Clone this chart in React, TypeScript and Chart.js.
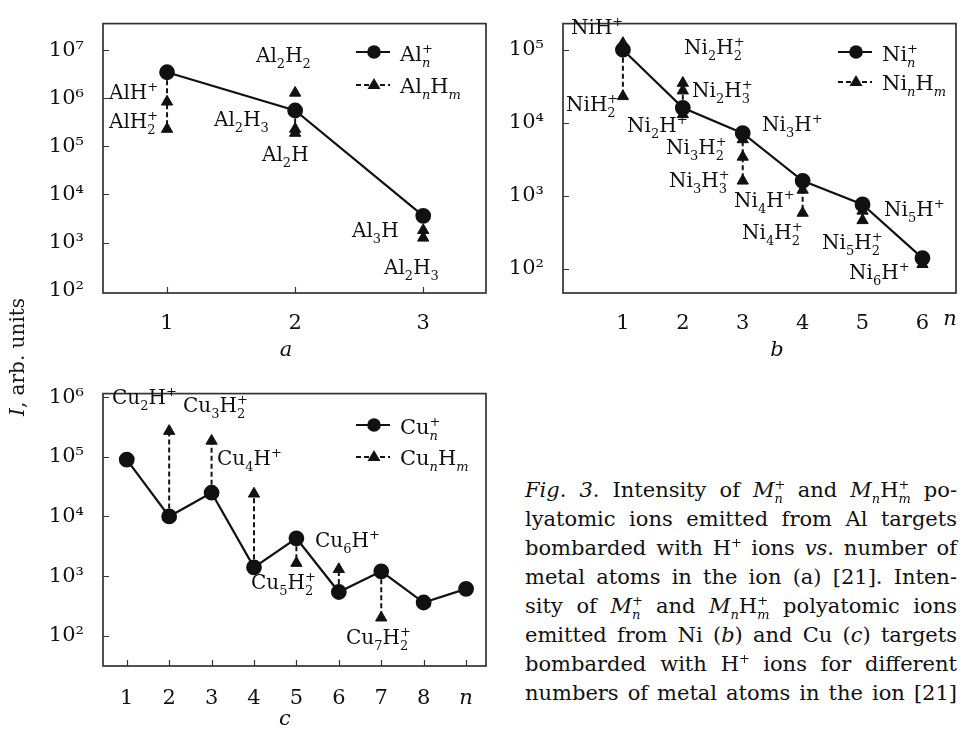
import React, { useEffect, useRef } from "react";
import { Chart, registerables } from "chart.js";

Chart.register(...registerables);

const FONT = "'DejaVu Serif', 'Liberation Serif', serif";
const INK = "#111111";

// ---------- data: panel a (Al) ----------
const alN = [1, 2, 3];
const alIons = [3.5e6, 5.6e5, 3.6e3];
const alHydN = [1, 1, 2, 2, 2, 3, 3];
const alHyd = [8.5e5, 2.3e5, 1.3e6, 2.3e5, 1.9e5, 1.8e3, 1.25e3];
const alLinks = [1, 4]; // hydride indices joined by a dashed line to the ion of the same n
const alXTicks = [1, 2, 3];
const alXTickLabels = ["1", "2", "3"];
const alYExps = [2, 3, 4, 5, 6, 7];

// ---------- data: panel b (Ni) ----------
const niN = [1, 2, 3, 4, 5, 6];
const niIons = [1.0e5, 1.6e4, 7.2e3, 1.6e3, 760, 140];
const niHydN = [1, 1, 2, 2, 2, 3, 3, 3, 4, 4, 5, 5, 6];
const niHyd = [1.23e5, 2.3e4, 3.5e4, 2.75e4, 1.3e4, 5.9e3, 3.4e3, 1.6e3, 1.2e3, 580, 620, 460, 115];
const niLinks = [1, 3, 7, 9];
const niXTicks = [1, 2, 3, 4, 5, 6];
const niXTickLabels = ["1", "2", "3", "4", "5", "6"];
const niYExps = [2, 3, 4, 5];

// ---------- data: panel c (Cu) ----------
const cuN = [1, 2, 3, 4, 5, 6, 7, 8, 9];
const cuIons = [9e4, 1e4, 2.5e4, 1.4e3, 4.3e3, 540, 1.2e3, 360, 610];
const cuHydN = [2, 3, 4, 5, 6, 7];
const cuHyd = [2.7e5, 1.85e5, 2.4e4, 1.65e3, 1.3e3, 200];
const cuLinks = [0, 1, 2, 3, 4, 5];
const cuXTicks = [1, 2, 3, 4, 5, 6, 7, 8, 9];
const cuXTickLabels = ["1", "2", "3", "4", "5", "6", "7", "8", "n"];
const cuYExps = [2, 3, 4, 5, 6];

// ---------- annotation texts ----------
const alNotes: [string, number, number][] = [
  ["AlH^+", 109, 90],
  ["AlH_2^+", 109, 119],
  ["Al_2H_2", 256, 53],
  ["Al_2H_3", 214, 117],
  ["Al_2H", 262, 152],
  ["Al_3H", 352, 228],
  ["Al_2H_3", 384, 265],
];
const niNotes: [string, number, number][] = [
  ["NiH^+", 571, 25],
  ["NiH_2^+", 566, 102],
  ["Ni_2H_2^+", 684, 45],
  ["Ni_2H_3^+", 692, 88],
  ["Ni_2H^+", 627, 123],
  ["Ni_3H^+", 762, 122],
  ["Ni_3H_2^+", 666, 145],
  ["Ni_3H_3^+", 669, 178],
  ["Ni_4H^+", 734, 198],
  ["Ni_4H_2^+", 742, 230],
  ["Ni_5H^+", 884, 207],
  ["Ni_5H_2^+", 822, 240],
  ["Ni_6H^+", 849, 270],
];
const cuNotes: [string, number, number][] = [
  ["Cu_2H^+", 112, 395],
  ["Cu_3H_2^+", 183, 403],
  ["Cu_4H^+", 217, 456],
  ["Cu_6H^+", 315, 538],
  ["Cu_5H_2^+", 251, 580],
  ["Cu_7H_2^+", 346, 635],
];

const SUP: Record<string, string> = {
  "0": "\u2070", "1": "\u00b9", "2": "\u00b2", "3": "\u00b3", "4": "\u2074",
  "5": "\u2075", "6": "\u2076", "7": "\u2077", "8": "\u2078", "9": "\u2079",
};

type Spec = {
  n: number[]; ions: number[]; hydN: number[]; hyd: number[]; links: number[];
  xTicks: number[]; xTickLabels: string[]; yExps: number[];
  xMin: number; xMax: number; yMin: number; yMax: number;
  yAxisWidth: number; xAxisHeight: number; padTop: number; padRight: number;
  xLabelPad: number; innerXTicks: boolean;
};

const framePlugin = {
  id: "frame",
  afterDraw(chart: any) {
    const { ctx, chartArea, scales } = chart;
    const { left, top, right, bottom } = chartArea;
    const opts = chart.options.plugins.frame || {};
    ctx.save();
    ctx.strokeStyle = "#333";
    ctx.lineWidth = 1.7;
    ctx.strokeRect(left, top, right - left, bottom - top);
    ctx.lineWidth = 1.2;
    ctx.beginPath();
    scales.y.ticks.forEach((t: any) => {
      const y = Math.round(scales.y.getPixelForValue(t.value)) + 0.5;
      if (y > top + 2 && y < bottom - 2) {
        ctx.moveTo(left, y);
        ctx.lineTo(left + 6, y);
      }
    });
    if (opts.innerXTicks) {
      scales.x.ticks.forEach((t: any) => {
        const x = Math.round(scales.x.getPixelForValue(t.value)) + 0.5;
        ctx.moveTo(x, bottom);
        ctx.lineTo(x, bottom - 6);
      });
    }
    ctx.stroke();
    ctx.restore();
  },
};

function buildConfig(s: Spec): any {
  const datasets: any[] = [];
  s.links.forEach((hi) => {
    const nx = s.hydN[hi];
    const ii = s.n.indexOf(nx);
    datasets.push({
      data: [{ x: nx, y: s.ions[ii] }, { x: nx, y: s.hyd[hi] }],
      borderColor: INK, borderWidth: 2, borderDash: [5, 3], pointRadius: 0, order: 3,
    });
  });
  datasets.push({
    data: s.hyd.map((v, i) => ({ x: s.hydN[i], y: v })),
    showLine: false, pointStyle: "triangle", pointRadius: 6.5,
    backgroundColor: INK, borderColor: INK, borderWidth: 1, order: 2,
  });
  datasets.push({
    data: s.ions.map((v, i) => ({ x: s.n[i], y: v })),
    borderColor: INK, borderWidth: 2.2, pointStyle: "circle", pointRadius: 6.8,
    backgroundColor: INK, pointBorderColor: INK, order: 1,
  });
  return {
    type: "line",
    data: { datasets },
    options: {
      responsive: false,
      animation: false,
      events: [],
      layout: { padding: { top: s.padTop, right: s.padRight, left: 0, bottom: 0 } },
      plugins: { legend: { display: false }, tooltip: { enabled: false }, frame: { innerXTicks: s.innerXTicks } },
      scales: {
        x: {
          type: "linear", min: s.xMin, max: s.xMax,
          grid: { display: false }, border: { display: false },
          afterBuildTicks: (sc: any) => { sc.ticks = s.xTicks.map((v) => ({ value: v })); },
          afterFit: (sc: any) => { sc.height = s.xAxisHeight; },
          ticks: {
            padding: s.xLabelPad, color: INK, autoSkip: false, maxRotation: 0,
            font: (ctx: any) => {
              const i = s.xTicks.indexOf(ctx.tick ? ctx.tick.value : -1);
              const lab = i >= 0 ? s.xTickLabels[i] : "";
              return { family: FONT, size: 21, style: /[a-z]/.test(lab) ? "italic" : "normal" };
            },
            callback: (v: any) => { const i = s.xTicks.indexOf(v); return i >= 0 ? s.xTickLabels[i] : ""; },
          },
        },
        y: {
          type: "logarithmic", min: s.yMin, max: s.yMax,
          grid: { display: false }, border: { display: false },
          afterBuildTicks: (sc: any) => { sc.ticks = s.yExps.map((e) => ({ value: Math.pow(10, e) })); },
          afterFit: (sc: any) => { sc.width = s.yAxisWidth; },
          ticks: {
            padding: 11, color: INK, font: { family: FONT, size: 21 },
            callback: (v: any) => "10" + String(Math.round(Math.log10(v))).split("").map((d) => SUP[d]).join(""),
          },
        },
      },
    },
    plugins: [framePlugin],
  };
}

const specA: Spec = {
  n: alN, ions: alIons, hydN: alHydN, hyd: alHyd, links: alLinks,
  xTicks: alXTicks, xTickLabels: alXTickLabels, yExps: alYExps,
  xMin: 0.5, xMax: 3.49, yMin: 89, yMax: 3.6e7,
  yAxisWidth: 103, xAxisHeight: 47, padTop: 4, padRight: 7, xLabelPad: 10, innerXTicks: true,
};
const specB: Spec = {
  n: niN, ions: niIons, hydN: niHydN, hyd: niHyd, links: niLinks,
  xTicks: niXTicks, xTickLabels: niXTickLabels, yExps: niYExps,
  xMin: 0, xMax: 6.56, yMin: 46.5, yMax: 2.28e5,
  yAxisWidth: 73, xAxisHeight: 47, padTop: 4, padRight: 7, xLabelPad: 10, innerXTicks: false,
};
const specC: Spec = {
  n: cuN, ions: cuIons, hydN: cuHydN, hyd: cuHyd, links: cuLinks,
  xTicks: cuXTicks, xTickLabels: cuXTickLabels, yExps: cuYExps,
  xMin: 0.44, xMax: 9.47, yMin: 31, yMax: 1.15e6,
  yAxisWidth: 103, xAxisHeight: 63, padTop: 7, padRight: 7, xLabelPad: 12, innerXTicks: true,
};

function PanelChart({ spec, left, top, width, height }: { spec: Spec; left: number; top: number; width: number; height: number }) {
  const ref = useRef<HTMLCanvasElement>(null);
  useEffect(() => {
    const chart = new Chart(ref.current as HTMLCanvasElement, buildConfig(spec));
    return () => chart.destroy();
  }, []);
  return <canvas ref={ref} width={width} height={height} style={{ position: "absolute", left, top, width, height }} />;
}

function charW(c: string, s: number) {
  if (c === "+") return 0.8 * s;
  if (c === "m") return 0.95 * s;
  return 0.64 * s;
}

function Script({ sub, sup, fs }: { sub: string | null; sup: string | null; fs: number }) {
  const s = Math.round(fs * 0.64);
  const it = (c: string) => (/[a-z]/.test(c) ? "italic" : "normal");
  const w = Math.max(sub ? charW(sub, s) : 0, sup ? charW(sup, s) : 0);
  return (
    <span style={{ display: "inline-block", position: "relative", width: w, height: fs, verticalAlign: "baseline" }}>
      {sup && (
        <span style={{ position: "absolute", left: 0, top: fs - 0.42 * fs - 0.8 * s, fontSize: s, lineHeight: 1, fontStyle: it(sup) }}>{sup}</span>
      )}
      {sub && (
        <span style={{ position: "absolute", left: 0, top: fs + 0.26 * fs - 0.8 * s, fontSize: s, lineHeight: 1, fontStyle: it(sub) }}>{sub}</span>
      )}
    </span>
  );
}

function Chem({ t, fs }: { t: string; fs: number }) {
  const parts: React.ReactNode[] = [];
  let buf = "";
  let k = 0;
  const flush = () => { if (buf) { parts.push(<span key={k++}>{buf}</span>); buf = ""; } };
  for (let i = 0; i < t.length; i++) {
    const c = t[i];
    if (c === "_") {
      flush();
      const sub = t[i + 1];
      i++;
      let sup: string | null = null;
      if (t[i + 1] === "^") { sup = t[i + 2]; i += 2; }
      parts.push(<Script key={k++} sub={sub} sup={sup} fs={fs} />);
    } else if (c === "^") {
      flush();
      parts.push(<Script key={k++} sub={null} sup={t[i + 1]} fs={fs} />);
      i++;
    } else if (c === "*") {
      flush();
      const j = t.indexOf("*", i + 1);
      parts.push(<i key={k++}>{t.slice(i + 1, j)}</i>);
      i = j;
    } else buf += c;
  }
  flush();
  return <>{parts}</>;
}

function Note({ t, x, y, fs = 20 }: { t: string; x: number; y: number; fs?: number }) {
  return (
    <div style={{ position: "absolute", left: x, top: y, transform: "translateY(-50%)", fontSize: fs, lineHeight: 1, whiteSpace: "nowrap" }}>
      <Chem t={t} fs={fs} />
    </div>
  );
}

function Legend({ x, y1, y2, tx, ion, hyd }: { x: number; y1: number; y2: number; tx: number; ion: string; hyd: string }) {
  return (
    <>
      <svg style={{ position: "absolute", left: x, top: y1 - 8 }} width={36} height={16}>
        <line x1={0} y1={8} x2={34} y2={8} stroke={INK} strokeWidth={2.2} />
        <circle cx={18} cy={8} r={6.8} fill={INK} />
      </svg>
      <svg style={{ position: "absolute", left: x, top: y2 - 8 }} width={36} height={16}>
        <line x1={0} y1={9} x2={34} y2={9} stroke={INK} strokeWidth={2} strokeDasharray="5 3" />
        <polygon points="18,2 24.5,13 11.5,13" fill={INK} />
      </svg>
      <Note t={ion} x={tx} y={y1} fs={21} />
      <Note t={hyd} x={tx} y={y2} fs={21} />
    </>
  );
}

const captionLines: string[] = [
  "*Fig*. *3*. Intensity of *M*_n^+ and *M*_nH_m^+ po-",
  "lyatomic ions emitted from Al targets",
  "bombarded with H^+ ions *vs*. number of",
  "metal atoms in the ion (a) [21]. Inten-",
  "sity of *M*_n^+ and *M*_nH_m^+ polyatomic ions",
  "emitted from Ni (*b*) and Cu (*c*) targets",
  "bombarded with H^+ ions for different",
  "numbers of metal atoms in the ion [21]",
];

export default function App() {
  return (
    <div style={{ position: "absolute", left: 0, top: 0, width: 965, height: 729, background: "#fff", color: INK, fontFamily: FONT, overflow: "hidden" }}>
      <PanelChart spec={specA} left={0} top={0} width={495} height={340} />
      <PanelChart spec={specB} left={490} top={0} width={475} height={340} />
      <PanelChart spec={specC} left={0} top={370} width={495} height={359} />

      {alNotes.map(([t, x, y], i) => <Note key={"a" + i} t={t} x={x} y={y} />)}
      {niNotes.map(([t, x, y], i) => <Note key={"b" + i} t={t} x={x} y={y} />)}
      {cuNotes.map(([t, x, y], i) => <Note key={"c" + i} t={t} x={x} y={y} />)}

      <Legend x={356} y1={52} y2={84} tx={400} ion="Al_n^+" hyd="Al_nH_m" />
      <Legend x={838} y1={52} y2={81} tx={882} ion="Ni_n^+" hyd="Ni_nH_m" />
      <Legend x={356} y1={425} y2={456} tx={400} ion="Cu_n^+" hyd="Cu_nH_m" />

      <div style={{ position: "absolute", left: 950, top: 318, transform: "translate(-50%,-50%)", fontSize: 21, fontStyle: "italic" }}>n</div>
      <div style={{ position: "absolute", left: 286, top: 349, transform: "translate(-50%,-50%)", fontSize: 21, fontStyle: "italic" }}>a</div>
      <div style={{ position: "absolute", left: 777, top: 349, transform: "translate(-50%,-50%)", fontSize: 21, fontStyle: "italic" }}>b</div>
      <div style={{ position: "absolute", left: 285, top: 718, transform: "translate(-50%,-50%)", fontSize: 21, fontStyle: "italic" }}>c</div>

      <div style={{ position: "absolute", left: 17, top: 357, transform: "translate(-50%,-50%) rotate(-90deg)", fontSize: 20, whiteSpace: "nowrap" }}>
        <i>I</i>, arb. units
      </div>

      <div style={{ position: "absolute", left: 525, top: 476, width: 432, fontSize: 21, lineHeight: "29px" }}>
        {captionLines.map((l, i) => (
          <div key={i} style={{ textAlign: "justify", textAlignLast: "justify", height: 29, whiteSpace: "nowrap" }}>
            <Chem t={l} fs={21} />
          </div>
        ))}
      </div>
    </div>
  );
}
